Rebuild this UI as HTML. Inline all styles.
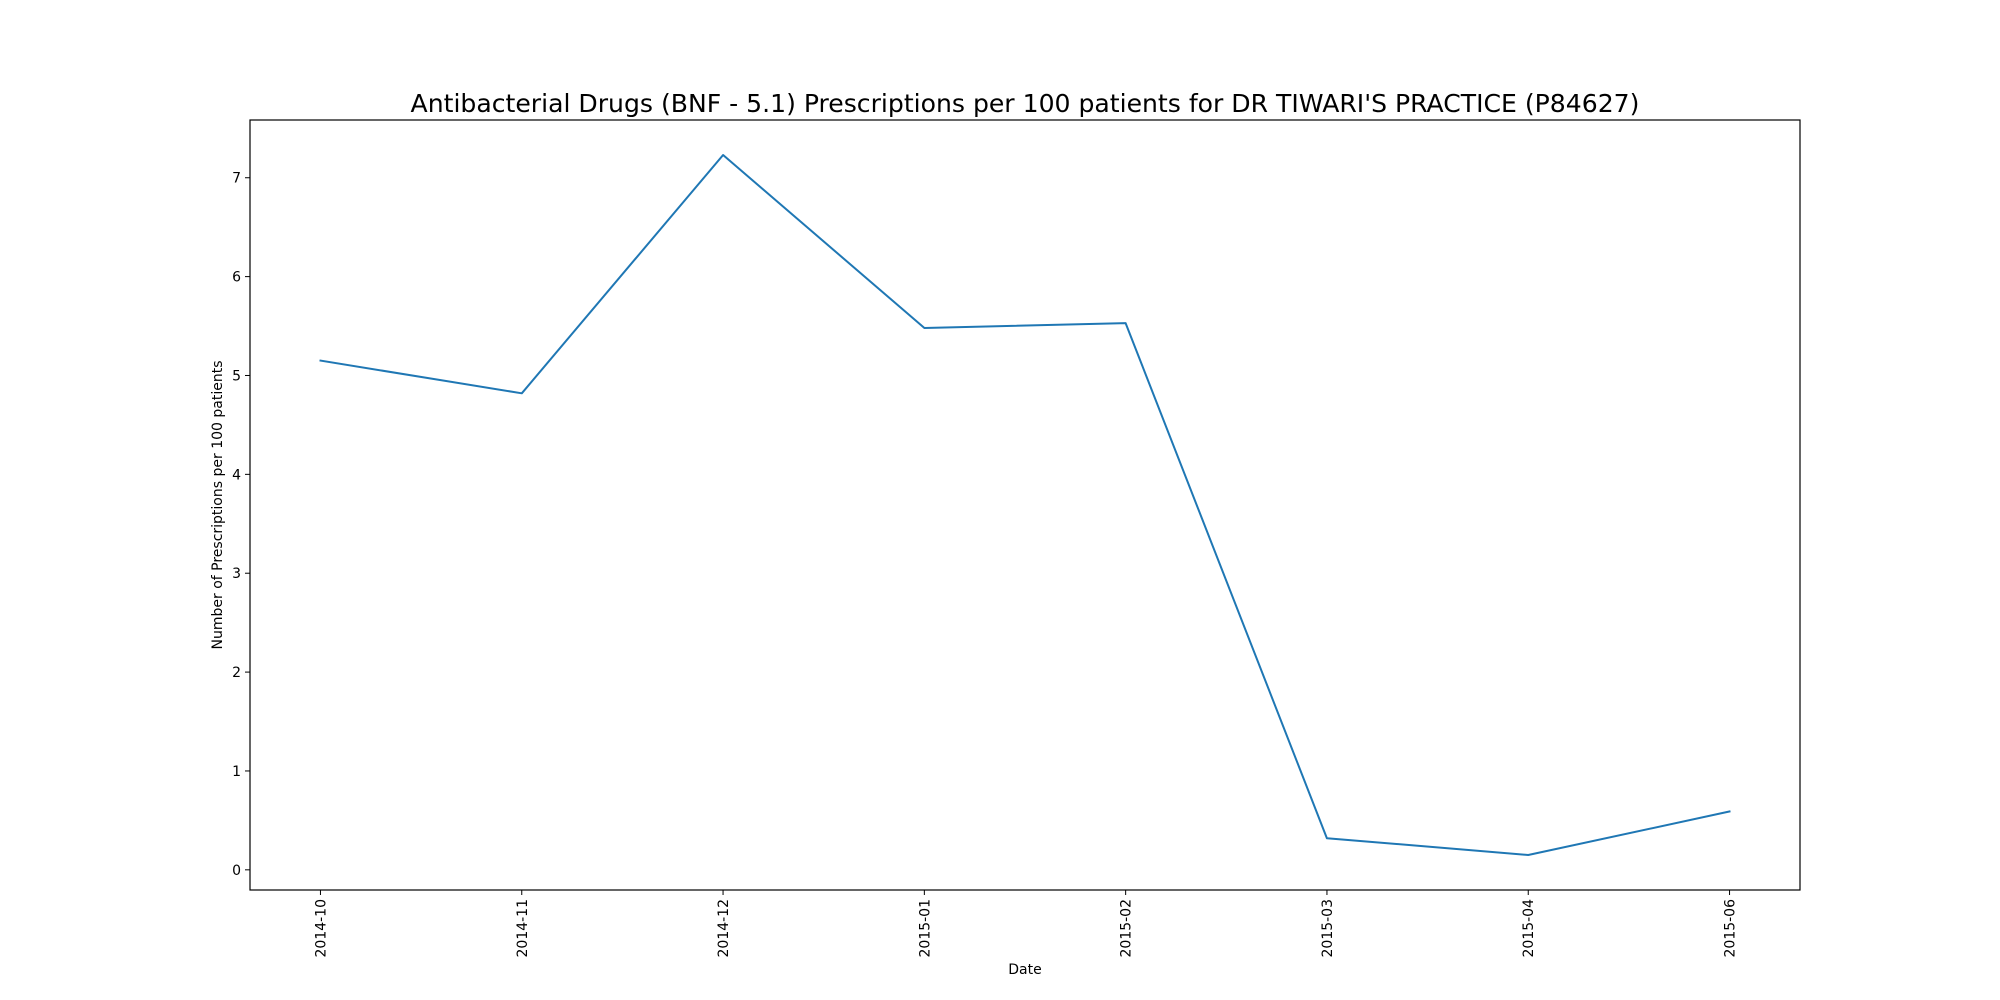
<!DOCTYPE html>
<html><head><meta charset="utf-8"><style>
html,body{margin:0;padding:0;background:#fff;}
svg{display:block;font-family:"DejaVu Sans","Liberation Sans",sans-serif;}
</style></head><body>
<svg id="chart" width="2000" height="1000" viewBox="0 0 2000 1000">
<rect width="2000" height="1000" fill="#fff"/>
<text x="1025" y="112" text-anchor="middle" font-size="25.1">Antibacterial Drugs (BNF - 5.1) Prescriptions per 100 patients for DR TIWARI'S PRACTICE (P84627)</text>
<g id="plot"></g>
<rect x="250" y="120" width="1550" height="770" fill="none" stroke="#000" stroke-width="1.2"/>
<text x="1025" y="974" text-anchor="middle" font-size="14">Date</text>
<text transform="translate(222,505) rotate(-90)" text-anchor="middle" font-size="14">Number of Prescriptions per 100 patients</text>
</svg>
<script>
const categories = ["2014-10","2014-11","2014-12","2015-01","2015-02","2015-03","2015-04","2015-06"];
const values = [5.15, 4.82, 7.23, 5.48, 5.53, 0.32, 0.15, 0.59];
const yTicks = [0,1,2,3,4,5,6,7];

const L=250,R=1800,T=120,B=890;
const n=categories.length;
const xmin=-0.35, xmax=(n-1)+0.35;
const vmin=Math.min(...values), vmax=Math.max(...values), pad=(vmax-vmin)*0.05;
const ymin=vmin-pad, ymax=vmax+pad;
const xs=i=>L+(i-xmin)/(xmax-xmin)*(R-L);
const ys=v=>B-(v-ymin)/(ymax-ymin)*(B-T);
const NS="http://www.w3.org/2000/svg";
const g=document.getElementById('plot');
function mk(tag,attrs,txt){const e=document.createElementNS(NS,tag);for(const k in attrs)e.setAttribute(k,attrs[k]);if(txt!==undefined)e.textContent=txt;g.appendChild(e);return e;}

yTicks.forEach(t=>{
  const y=ys(t);
  const tk=mk('line',{x1:L-5,x2:L,y1:y,y2:y,stroke:'#000','stroke-width':1});
  
  
  const lb=mk('text',{x:L-9,y:y+5,'text-anchor':'end','font-size':14},String(t));
  
  
});
categories.forEach((c,i)=>{
  const x=xs(i);
  const tk=mk('line',{x1:x,x2:x,y1:B,y2:B+5,stroke:'#000','stroke-width':1});
  
  
  const lb=mk('text',{transform:`translate(${x+5},${B+9}) rotate(-90)`,'text-anchor':'end','font-size':14},c);
  
  
});
const pts=values.map((v,i)=>xs(i).toFixed(1)+','+ys(v).toFixed(1)).join(' ');
const line=mk('polyline',{points:pts,fill:'none',stroke:'#1f77b4','stroke-width':2,'stroke-linejoin':'round','stroke-linecap':'square'});


</script>
</body></html>
